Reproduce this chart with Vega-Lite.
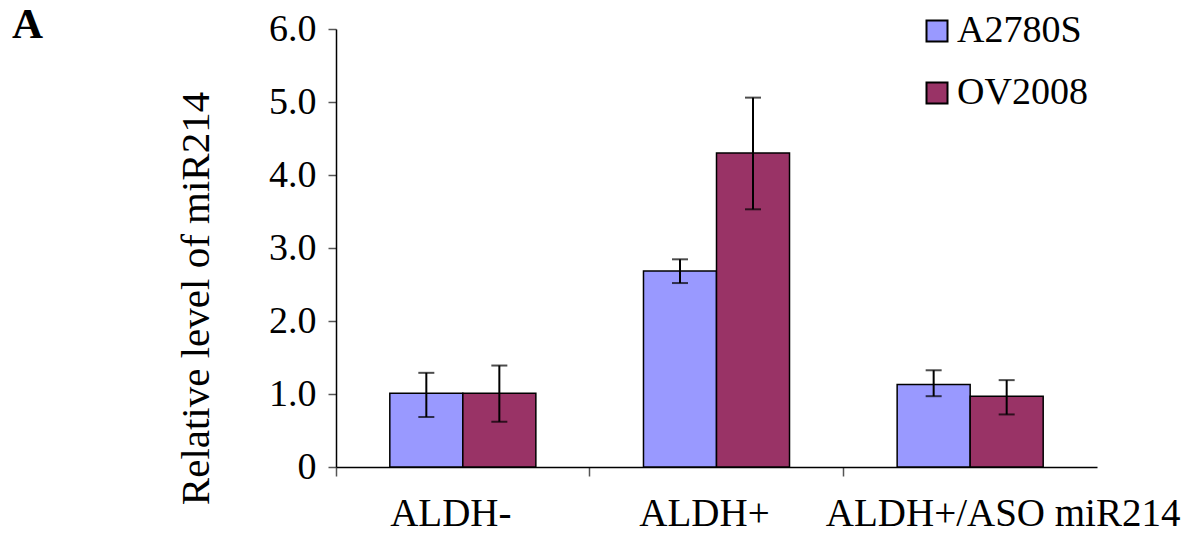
{
  "$schema": "https://vega.github.io/schema/vega-lite/v6.json",
  "autosize": {"type": "none"},
  "padding": {"left": 336, "top": 29, "right": 89, "bottom": 73},
  "width": 761,
  "height": 438,
  "background": "white",
  "title": {"text": "A", "anchor": "start", "frame": "group", "font": "Liberation Serif", "fontSize": 43, "fontWeight": "bold", "color": "black", "offset": 0, "dx": -324, "dy": 37},
  "config": {
    "view": {"stroke": null},
    "font": "Liberation Serif"
  },
  "data": {
    "values": [
      {"group": "ALDH-", "series": "A2780S", "value": 1.01, "lower": 0.685, "upper": 1.29},
      {"group": "ALDH-", "series": "OV2008", "value": 1.01, "lower": 0.62, "upper": 1.39},
      {"group": "ALDH+", "series": "A2780S", "value": 2.685, "lower": 2.52, "upper": 2.845},
      {"group": "ALDH+", "series": "OV2008", "value": 4.30, "lower": 3.53, "upper": 5.06},
      {"group": "ALDH+/ASO miR214", "series": "A2780S", "value": 1.13, "lower": 0.97, "upper": 1.325},
      {"group": "ALDH+/ASO miR214", "series": "OV2008", "value": 0.97, "lower": 0.72, "upper": 1.19}
    ]
  },
  "encoding": {
    "x": {
      "field": "group", "type": "nominal", "sort": ["ALDH-", "ALDH+", "ALDH+/ASO miR214"],
      "scale": {"paddingInner": 0, "paddingOuter": 0},
      "axis": {
        "title": null, "labelAngle": 0, "labelFont": "Liberation Serif", "labelFontSize": 39, "labelColor": "black", "labelLimit": 0,
        "labelOffset": {"condition": {"test": "datum.value == 'ALDH+/ASO miR214'", "value": 33}, "value": -12},
        "labelPadding": 18, "tickSize": 9, "tickColor": "#555555", "tickWidth": 1.5, "bandPosition": 0,
        "domainColor": "black", "domainWidth": 1.5, "grid": false
      }
    },
    "xOffset": {
      "field": "series", "type": "nominal", "sort": ["A2780S", "OV2008"],
      "scale": {"paddingInner": 0, "paddingOuter": 0.737}
    }
  },
  "layer": [
    {
      "mark": {"type": "bar", "stroke": "black", "strokeWidth": 1.5},
      "encoding": {
        "y": {
          "field": "value", "type": "quantitative",
          "scale": {"domain": [0, 6], "nice": false},
          "axis": {
            "title": "Relative level of miR214", "titleFont": "Liberation Serif", "titleFontSize": 41, "titleFontWeight": "normal", "titleColor": "black", "titlePadding": 51, "titleY": 269,
            "values": [0, 1, 2, 3, 4, 5, 6],
            "labelExpr": "datum.value == 0 ? '0' : format(datum.value, '.1f')",
            "labelFont": "Liberation Serif", "labelFontSize": 38, "labelColor": "black", "labelPadding": 12,
            "tickSize": 8, "tickColor": "#555555", "tickWidth": 1.5,
            "domainColor": "black", "domainWidth": 1.5, "grid": false
          }
        },
        "fill": {
          "field": "series", "type": "nominal",
          "scale": {"domain": ["A2780S", "OV2008"], "range": ["#9999FF", "#993366"]},
          "legend": {
            "title": null, "orient": "none", "legendX": 582, "legendY": -17,
            "symbolType": "square", "symbolSize": 441, "symbolStrokeColor": "black", "symbolStrokeWidth": 2,
            "labelFont": "Liberation Serif", "labelFontSize": 38, "labelColor": "black", "labelOffset": 1,
            "rowPadding": 24
          }
        }
      }
    },
    {
      "mark": {"type": "rule", "color": "black", "strokeWidth": 2},
      "encoding": {
        "y": {"field": "lower", "type": "quantitative"},
        "y2": {"field": "upper"}
      }
    },
    {
      "mark": {"type": "tick", "color": "black", "thickness": 2, "size": 16},
      "encoding": {"y": {"field": "upper", "type": "quantitative"}}
    },
    {
      "mark": {"type": "tick", "color": "black", "thickness": 2, "size": 16},
      "encoding": {"y": {"field": "lower", "type": "quantitative"}}
    }
  ]
}
